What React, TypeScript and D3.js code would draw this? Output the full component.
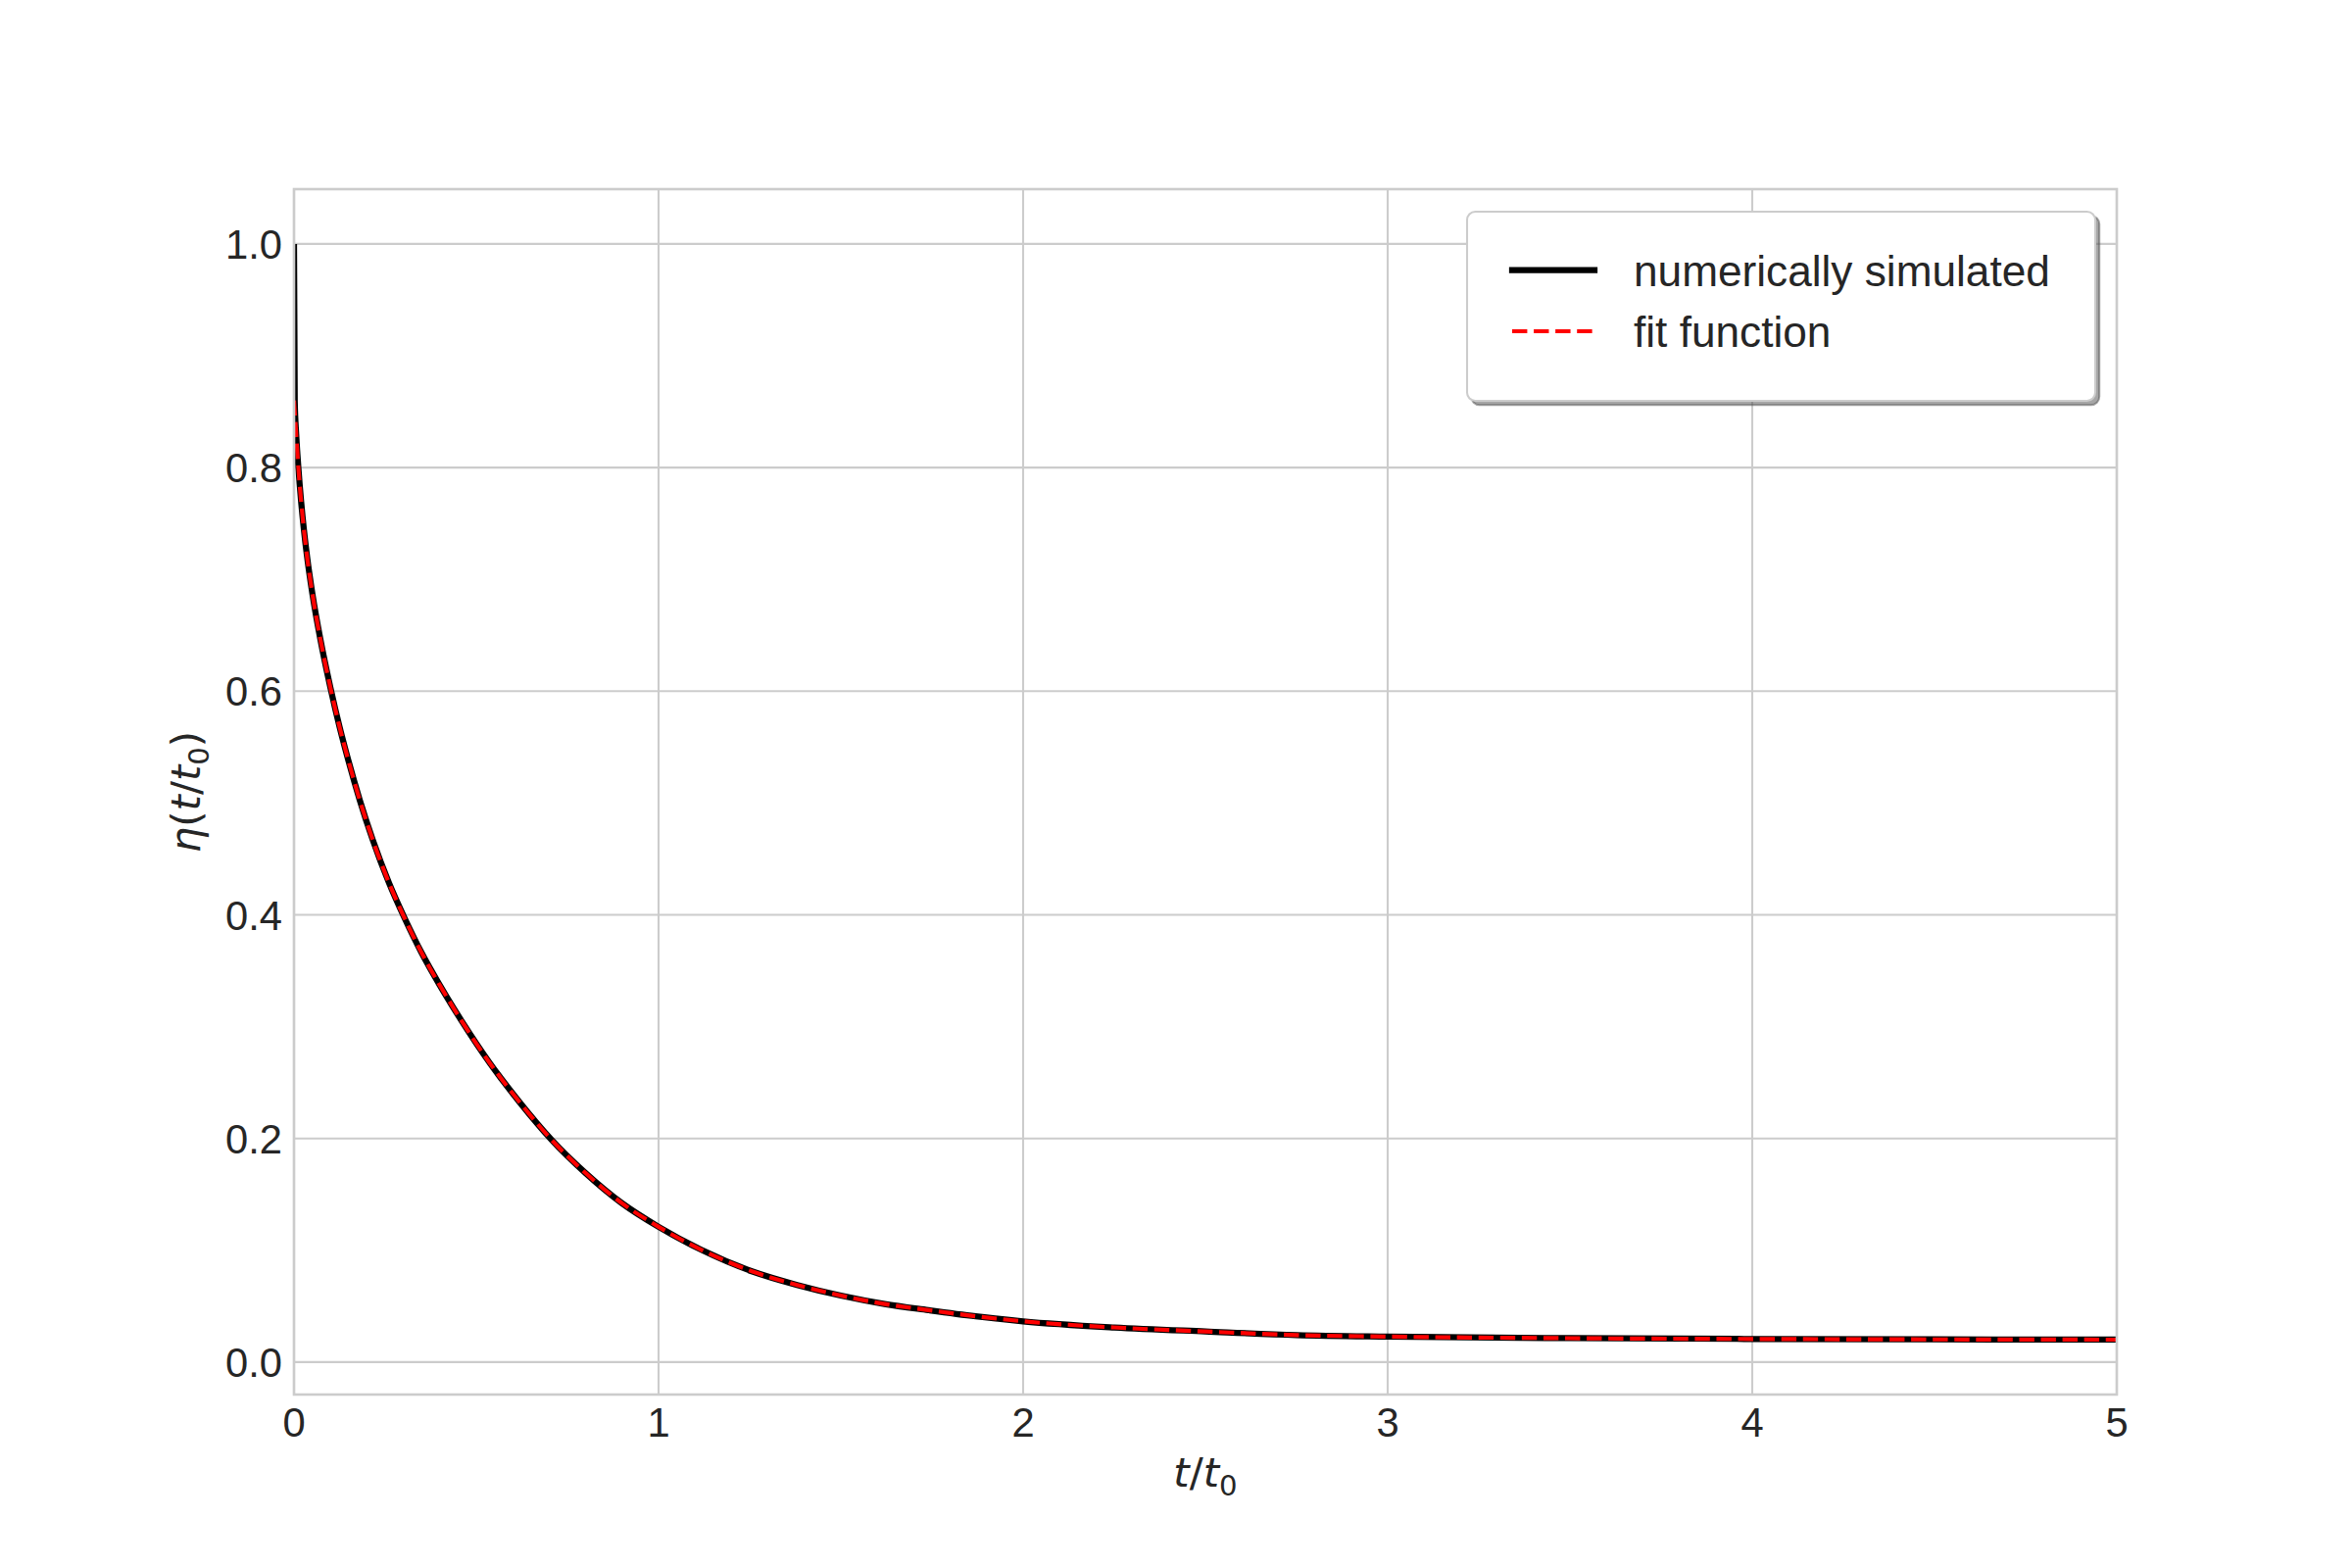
import React from "react";
import * as d3 from "d3";

// time axis t/t0
const tValues = [0, 0.002, 0.006, 0.012, 0.02, 0.027, 0.036, 0.051, 0.072, 0.1, 0.125, 0.15, 0.18, 0.216, 0.26, 0.302, 0.35, 0.4, 0.46, 0.538, 0.62, 0.706, 0.8, 0.9, 1.0, 1.12, 1.258, 1.38, 1.5, 1.62, 1.74, 1.87, 2.0, 2.25, 2.5, 2.75, 3.0, 3.5, 4.0, 4.5, 5.0];
// numerically simulated eta
const simEta = [1.0, 0.86, 0.83, 0.8, 0.768, 0.745, 0.72, 0.686, 0.647, 0.603, 0.568, 0.537, 0.503, 0.467, 0.429, 0.398, 0.366, 0.337, 0.305, 0.267, 0.232, 0.199, 0.169, 0.142, 0.121, 0.1, 0.081, 0.069, 0.0595, 0.052, 0.0465, 0.041, 0.0365, 0.031, 0.0274, 0.0242, 0.0228, 0.0214, 0.0207, 0.0203, 0.0201];
// fit function eta
const fitEta = [0.86, 0.85, 0.83, 0.8, 0.768, 0.745, 0.72, 0.686, 0.647, 0.603, 0.568, 0.537, 0.503, 0.467, 0.429, 0.398, 0.366, 0.337, 0.305, 0.267, 0.232, 0.199, 0.169, 0.142, 0.121, 0.1, 0.081, 0.069, 0.0595, 0.052, 0.0465, 0.041, 0.0365, 0.031, 0.0274, 0.0242, 0.0228, 0.0214, 0.0207, 0.0203, 0.0201];

const xTicks = [0, 1, 2, 3, 4, 5];
const yTicks = [0.0, 0.2, 0.4, 0.6, 0.8, 1.0];
const legendLabels = ["numerically simulated", "fit function"];

const W = 2400;
const H = 1600;
const L = 300, R = 2160, T = 193, B = 1423;
const TXT = "#262626";
const GRID = "#cccccc";
const FONT = "'Liberation Sans', Arial, sans-serif";
const MATH = "'DejaVu Sans', sans-serif";

export default function App() {
  const x = d3.scaleLinear().domain([0, 5]).range([L, R]);
  const y = d3.scaleLinear().domain([-0.029, 1.049]).range([B, T]);

  const line = (vals: number[]) =>
    d3
      .line<number>()
      .x((_, i) => x(tValues[i]))
      .y((d) => y(d))
      .curve(d3.curveMonotoneX)(vals) || "";

  const legX = 1497, legY = 216, legW = 641, legH = 193;
  const hx0 = 1543, hx1 = 1627;
  const row1 = 275.5, row2 = 338;

  return (
    <svg
      width={W}
      height={H}
      style={{ position: "absolute", left: 0, top: 0, background: "#fff" }}
      xmlns="http://www.w3.org/2000/svg"
    >
      <defs>
        <clipPath id="plotclip">
          <rect x={L} y={T} width={R - L} height={B - T} />
        </clipPath>
      </defs>
      <rect x={0} y={0} width={W} height={H} fill="#fff" />
      {/* grid */}
      {xTicks.map((t) => (
        <line key={"gx" + t} x1={x(t)} x2={x(t)} y1={T} y2={B} stroke={GRID} strokeWidth={2.08} />
      ))}
      {yTicks.map((v) => (
        <line key={"gy" + v} x1={L} x2={R} y1={y(v)} y2={y(v)} stroke={GRID} strokeWidth={2.08} />
      ))}
      {/* data */}
      <g clipPath="url(#plotclip)">
        <path d={line(simEta)} fill="none" stroke="#000" strokeWidth={6.25} strokeLinejoin="round" />
        <path
          d={line(fitEta)}
          fill="none"
          stroke="#ff0000"
          strokeWidth={4.17}
          strokeDasharray="15.4 6.67"
          strokeLinejoin="round"
        />
      </g>
      {/* spines */}
      <rect x={L} y={T} width={R - L} height={B - T} fill="none" stroke={GRID} strokeWidth={2.6} />
      {/* tick labels */}
      {xTicks.map((t) => (
        <text key={"tx" + t} x={x(t)} y={1466} textAnchor="middle" fontFamily={FONT} fontSize={41.7} fill={TXT}>
          {String(t)}
        </text>
      ))}
      {yTicks.map((v) => (
        <text key={"ty" + v} x={288} y={y(v) + 15} textAnchor="end" fontFamily={FONT} fontSize={41.7} fill={TXT}>
          {v.toFixed(1)}
        </text>
      ))}
      {/* x label */}
      <text x={(L + R) / 2} y={1517} textAnchor="middle" fontFamily={MATH} fontSize={41.7} fill={TXT}>
        <tspan fontStyle="italic">t</tspan>
        <tspan>/</tspan>
        <tspan fontStyle="italic">t</tspan>
        <tspan fontSize={29.2} dy={9}>0</tspan>
      </text>
      {/* y label */}
      <text
        transform={`translate(204, ${(T + B) / 2}) rotate(-90)`}
        textAnchor="middle"
        fontFamily={MATH}
        fontSize={41.7}
        fill={TXT}
      >
        <tspan fontStyle="italic">η</tspan>
        <tspan>(</tspan>
        <tspan fontStyle="italic">t</tspan>
        <tspan>/</tspan>
        <tspan fontStyle="italic">t</tspan>
        <tspan fontSize={29.2} dy={9}>0</tspan>
        <tspan dy={-9}>)</tspan>
      </text>
      {/* legend */}
      <rect x={legX + 4.2} y={legY + 4.2} width={legW} height={legH} rx={8.4} fill="#4d4d4d" fillOpacity={0.5} stroke="#4d4d4d" strokeOpacity={0.5} strokeWidth={2} />
      <rect x={legX} y={legY} width={legW} height={legH} rx={8.4} fill="#fff" stroke={GRID} strokeWidth={2.08} />
      <line x1={hx0} x2={hx1} y1={row1} y2={row1} stroke="#000" strokeWidth={6.25} strokeLinecap="square" />
      <line x1={hx0} x2={hx1} y1={row2} y2={row2} stroke="#ff0000" strokeWidth={4.17} strokeDasharray="15.4 6.67" />
      <text x={1667} y={291.7} fontFamily={FONT} fontSize={44.2} fill={TXT}>
        {legendLabels[0]}
      </text>
      <text x={1667} y={354} fontFamily={FONT} fontSize={44.2} fill={TXT}>
        {legendLabels[1]}
      </text>
    </svg>
  );
}
